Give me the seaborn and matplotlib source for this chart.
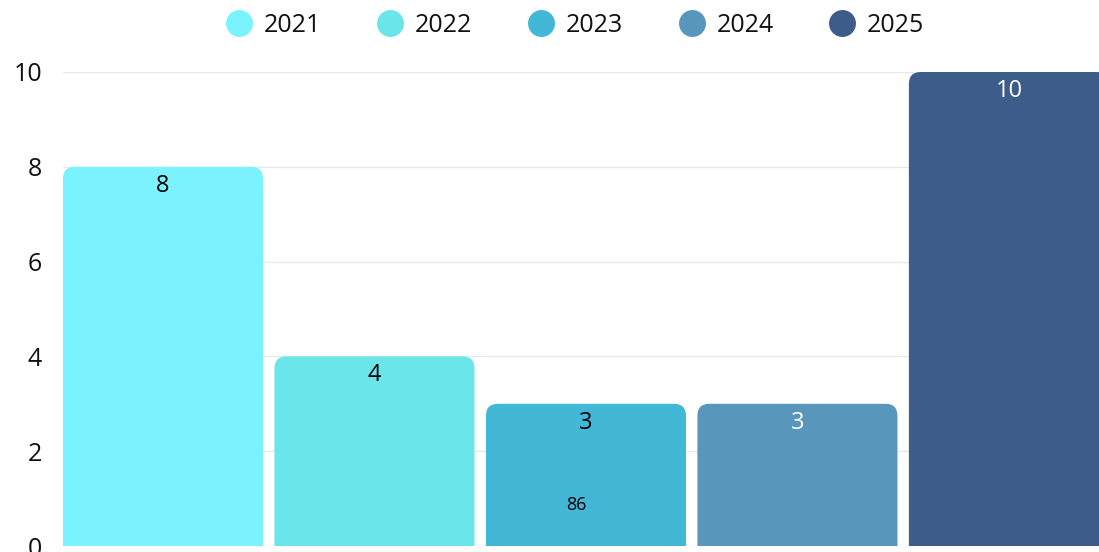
import numpy as np
import pandas as pd
import matplotlib
matplotlib.use('Agg')
import matplotlib.pyplot as plt
import seaborn as sns
from matplotlib.patches import FancyBboxPatch
from matplotlib.lines import Line2D

# data
years = ['2021', '2022', '2023', '2024', '2025']
values = [8, 4, 3, 3, 10]
colors = ['#7af3fe', '#6ae5e9', '#42b7d6', '#5896bb', '#3d5c89']
label_colors = ['black', 'black', 'black', 'white', 'white']
extra_note = '86'
extra_pos = (1.953, 0.865)

sns.set_theme(style='white')
plt.rcParams['font.family'] = ['Open Sans', 'DejaVu Sans']

df = pd.DataFrame({'year': years, 'value': values})

fig = plt.figure(figsize=(10.99, 5.52), dpi=100)
ax = fig.add_axes([63 / 1099, 6 / 552, 1036 / 1099, 474 / 552])

sns.barplot(data=df, x='year', y='value', hue='year', palette=colors,
            width=0.946, legend=False, ax=ax, saturation=1)

ax.set_xlim(-0.473, 4.426)
ax.set_ylim(0, 10)

# swap the plain bars for ones with rounded tops
rx = 12 / 211.5
ry = 12 / 47.4
for p in list(ax.patches):
    x, w, h = p.get_x(), p.get_width(), p.get_height()
    fc = p.get_facecolor()
    p.remove()
    ax.add_patch(FancyBboxPatch((x, -0.5), w, h + 0.5,
                                boxstyle=f'round,pad=0,rounding_size={rx}',
                                mutation_aspect=ry / rx,
                                fc=fc, ec='none', zorder=2))

for i, v in enumerate(values):
    ax.annotate(str(v), (i, v), xytext=(0, -19), textcoords='offset pixels',
                ha='center', va='center', fontsize=17, color=label_colors[i],
                zorder=3)

ax.text(extra_pos[0], extra_pos[1], extra_note, ha='center', va='center',
        fontsize=13, color='black', zorder=3)

ax.set_yticks([0, 2, 4, 6, 8, 10])
ax.yaxis.grid(True, color='#e8e8e8', lw=1)
ax.set_axisbelow(True)
ax.set_xticks([])
ax.set_xlabel('')
ax.set_ylabel('')
ax.tick_params(axis='y', length=0, pad=15, labelsize=18, labelcolor='#111111')
for s in ax.spines.values():
    s.set_visible(False)

handles = [Line2D([0], [0], marker='o', ls='none', markersize=19.4,
                  markerfacecolor=c, markeredgecolor='none') for c in colors]
fig.legend(handles, years, loc='center', bbox_to_anchor=(0.523, 1 - 25 / 552),
           ncol=5, frameon=False, fontsize=18, handletextpad=0.44,
           columnspacing=2.2, handlelength=1.1, labelcolor='#111111')

fig.savefig('out.png', dpi=100)
